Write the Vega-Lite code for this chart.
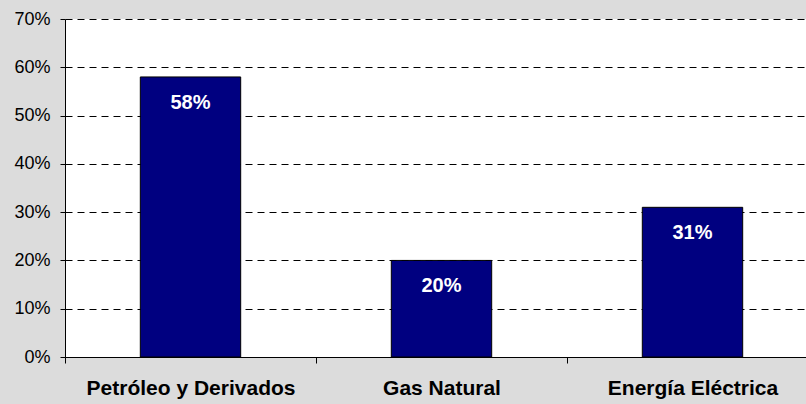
{
  "$schema": "https://vega.github.io/schema/vega-lite/v6.json",
  "width": 741,
  "height": 338,
  "autosize": {"type": "none"},
  "padding": {"left": 65, "top": 19, "right": 0, "bottom": 47},
  "background": "#dcdcdc",
  "config": {
    "view": {"fill": "#ffffff", "stroke": null},
    "font": "Liberation Sans"
  },
  "data": {
    "values": [
      {"categoria": "Petróleo y Derivados", "valor": 58, "etiqueta": "58%"},
      {"categoria": "Gas Natural", "valor": 20, "etiqueta": "20%"},
      {"categoria": "Energía Eléctrica", "valor": 31, "etiqueta": "31%"}
    ]
  },
  "encoding": {
    "x": {
      "field": "categoria",
      "type": "nominal",
      "sort": null,
      "scale": {"range": [0, 753], "paddingInner": 0.6, "paddingOuter": 0.3},
      "axis": {
        "title": null,
        "labelAngle": 0,
        "labelFont": "Liberation Sans",
        "labelFontSize": 21,
        "labelFontWeight": "bold",
        "labelColor": "#000000",
        "labelPadding": 14,
        "labelLimit": 400,
        "tickOffset": -125.5,
        "labelOffset": 125.5,
        "ticks": true,
        "tickSize": 6,
        "tickColor": "#000000",
        "tickWidth": 1,
        "domainColor": "#000000",
        "domainWidth": 1,
        "grid": false
      }
    },
    "y": {
      "field": "valor",
      "type": "quantitative",
      "scale": {"domain": [0, 70], "nice": false},
      "axis": {
        "title": null,
        "values": [0, 10, 20, 30, 40, 50, 60, 70],
        "labelExpr": "datum.value + '%'",
        "labelFont": "Liberation Sans",
        "labelFontSize": 18,
        "labelColor": "#000000",
        "labelPadding": 10,
        "tickSize": 5,
        "tickColor": "#000000",
        "domainColor": "#000000",
        "domainWidth": 1,
        "grid": true,
        "gridColor": "#000000",
        "gridDash": [7, 5],
        "gridWidth": 1
      }
    }
  },
  "layer": [
    {
      "mark": {"type": "bar", "color": "#000080", "stroke": "#000000", "strokeWidth": 1}
    },
    {
      "mark": {
        "type": "text",
        "color": "#ffffff",
        "fontSize": 20,
        "fontWeight": "bold",
        "font": "Liberation Sans",
        "baseline": "middle",
        "dy": 26
      },
      "encoding": {
        "text": {"field": "etiqueta", "type": "nominal"}
      }
    }
  ]
}
